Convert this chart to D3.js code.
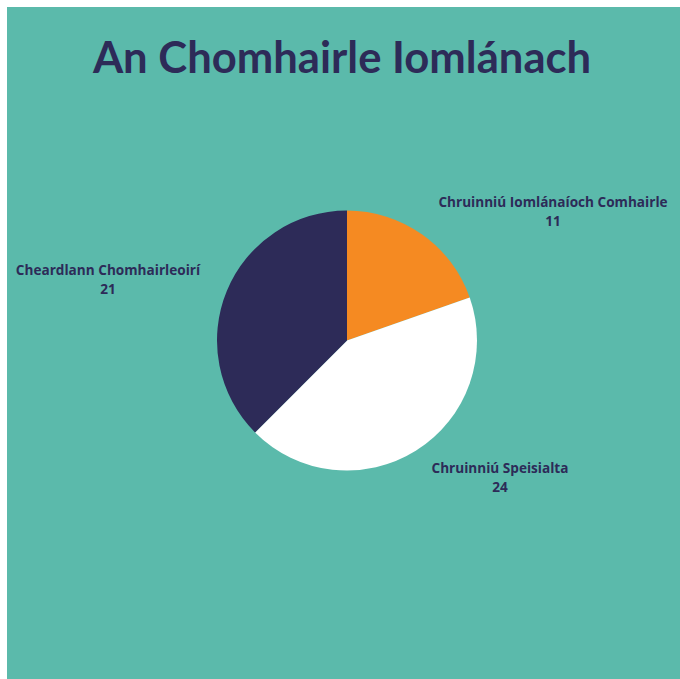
<!DOCTYPE html>
<html><head><meta charset="utf-8">
<script src="https://cdn.jsdelivr.net/npm/d3@7"></script>
<style>html,body{margin:0;padding:0;background:#fff;}svg{display:block;}</style>
</head><body>
<script>
const categories = ["Chruinniú Iomlánaíoch Comhairle", "Chruinniú Speisialta", "Cheardlann Chomhairleoirí"];
const values = [11, 24, 21];
const colors = ["#f58a22", "#ffffff", "#2d2b58"];
const title = "An Chomhairle Iomlánach";

const W = 680, H = 679;
const svg = d3.select("body").append("svg").attr("width", W).attr("height", H);
svg.append("rect").attr("x", 7).attr("y", 7).attr("width", W - 7).attr("height", H - 7).attr("fill", "#5bbaab");

svg.append("text").attr("x", 342).attr("y", 73).attr("text-anchor", "middle")
  .attr("font-family", "Lato, 'Open Sans', sans-serif").attr("font-weight", 700)
  .attr("font-size", 43.6).attr("fill", "#2d2b58").text(title);

const cx = 347, cy = 340.5, r = 130;
const pie = d3.pie().sort(null).value(d => d)(values);
const arc = d3.arc().innerRadius(0).outerRadius(r);
const g = svg.append("g").attr("transform", `translate(${cx},${cy})`);
g.selectAll("path").data(pie).join("path").attr("d", arc).attr("fill", (d, i) => colors[i]);

const labelPos = [[553, 207], [500, 473], [108, 275]];
const lg = svg.append("g").attr("font-family", "'Open Sans', sans-serif").attr("font-weight", 700)
  .attr("font-size", 13.6).attr("fill", "#2d2b58").attr("text-anchor", "middle");
categories.forEach((c, i) => {
  const t = lg.append("text").attr("x", labelPos[i][0]).attr("y", labelPos[i][1]);
  t.append("tspan").attr("x", labelPos[i][0]).text(c);
  t.append("tspan").attr("x", labelPos[i][0]).attr("dy", 19).text(values[i]);
});
</script>
</body></html>
